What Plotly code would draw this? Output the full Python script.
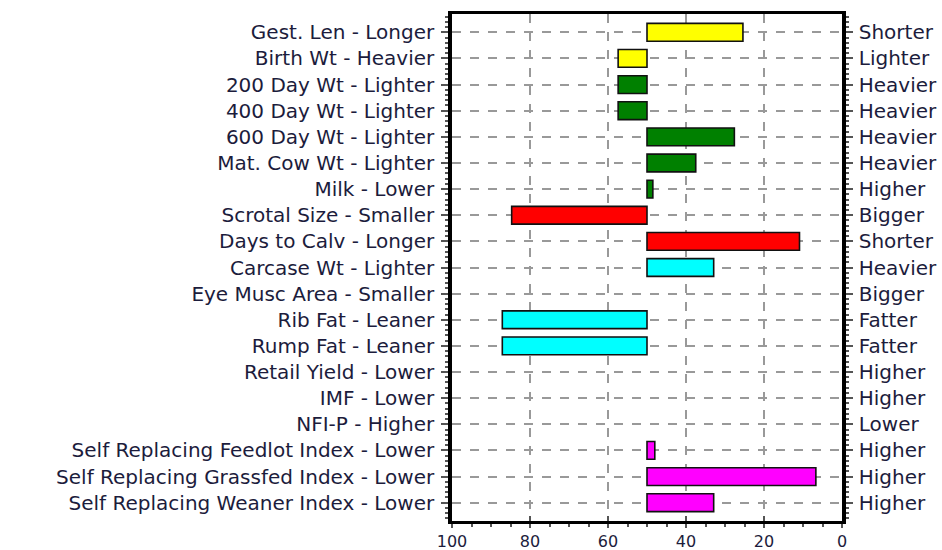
import plotly.graph_objects as go

left_labels = [
    "Gest. Len - Longer", "Birth Wt - Heavier", "200 Day Wt - Lighter",
    "400 Day Wt - Lighter", "600 Day Wt - Lighter", "Mat. Cow Wt - Lighter",
    "Milk - Lower", "Scrotal Size - Smaller", "Days to Calv - Longer",
    "Carcase Wt - Lighter", "Eye Musc Area - Smaller", "Rib Fat - Leaner",
    "Rump Fat - Leaner", "Retail Yield - Lower", "IMF - Lower", "NFI-P - Higher",
    "Self Replacing Feedlot Index - Lower", "Self Replacing Grassfed Index - Lower",
    "Self Replacing Weaner Index - Lower",
]
right_labels = [
    "Shorter", "Lighter", "Heavier", "Heavier", "Heavier", "Heavier", "Higher",
    "Bigger", "Shorter", "Heavier", "Bigger", "Fatter", "Fatter", "Higher",
    "Higher", "Lower", "Higher", "Higher", "Higher",
]
values = [25.4, 57.4, 57.4, 57.4, 27.6, 37.5, 48.5, 84.7, 10.9, 32.9, 50.0,
          87.1, 87.1, 50.0, 50.0, 50.0, 48.0, 6.7, 32.9]
colors = ["#FFFF00", "#FFFF00", "#008000", "#008000", "#008000", "#008000",
          "#008000", "#FF0000", "#FF0000", "#00FFFF", "#00FFFF", "#00FFFF",
          "#00FFFF", "#00FFFF", "#00FFFF", "#FF00FF", "#FF00FF", "#FF00FF",
          "#FF00FF"]
x_ticks = [100, 80, 60, 40, 20, 0]
baseline = 50

pos = list(range(len(left_labels)))
FONT = dict(family="DejaVu Sans", size=20, color="#1c1c3c")
line_widths = [0 if v == baseline else 1.6 for v in values]

fig = go.Figure()
fig.add_trace(go.Bar(
    orientation="h", y=pos, x=[v - baseline for v in values], base=baseline,
    marker=dict(color=colors, line=dict(color="#111111", width=line_widths)),
    width=0.68, hoverinfo="skip", showlegend=False,
))
fig.add_trace(go.Scatter(
    x=[baseline] * len(pos), y=pos, xaxis="x2", yaxis="y2", mode="markers",
    marker=dict(opacity=0), hoverinfo="skip", showlegend=False,
))

yrange = [18.7, -0.7]
xr = [100, 0]
fig.update_layout(
    width=942, height=550,
    margin=dict(l=452, r=100, t=14, b=29),
    paper_bgcolor="white", plot_bgcolor="white",
    font=FONT,
    xaxis=dict(range=xr, tickvals=x_ticks, ticktext=[str(t) for t in x_ticks],
               tickfont=dict(size=16),
               ticks="outside", ticklen=4, tickwidth=1.5, tickcolor="#555",
               ticklabelstandoff=0,
               showline=True, linewidth=2.5, linecolor="black", mirror=True,
               showgrid=True, gridcolor="#999999", griddash="dash", gridwidth=1.5,
               zeroline=False, automargin=False,
               minor=dict(dtick=5, tick0=0, ticks="outside", ticklen=3,
                          tickcolor="#555", showgrid=False)),
    xaxis2=dict(range=xr, overlaying="x", anchor="y2", side="bottom",
                tickvals=x_ticks, showticklabels=False, ticks="inside",
                ticklen=5, tickwidth=1.5, tickcolor="#555", showgrid=False,
                zeroline=False, showline=False, automargin=False),
    yaxis=dict(range=yrange, tickvals=pos, ticktext=left_labels,
               ticks="outside", ticklen=7, tickwidth=1.5, tickcolor="#555",
               ticklabelstandoff=3,
               showline=True, linewidth=3.5, linecolor="black",
               showgrid=True, gridcolor="#999999", griddash="dash", gridwidth=1.5,
               zeroline=False, automargin=False,
               minor=dict(dtick=0.2, tick0=0, ticks="outside", ticklen=3,
                          tickcolor="#555", showgrid=False)),
    yaxis2=dict(range=yrange, overlaying="y", side="right", anchor="x2",
                tickvals=pos, ticktext=right_labels,
                ticks="outside", ticklen=7, tickwidth=1.5, tickcolor="#555",
                ticklabelstandoff=2,
                showline=True, linewidth=3.5, linecolor="black",
                showgrid=False, zeroline=False, automargin=False,
                minor=dict(dtick=0.2, tick0=0, ticks="outside", ticklen=3,
                           tickcolor="#555", showgrid=False)),
)

fig.write_html("out.html", config={"displayModeBar": False},
               post_script="document.body.style.margin='0';document.body.style.overflow='hidden';")
